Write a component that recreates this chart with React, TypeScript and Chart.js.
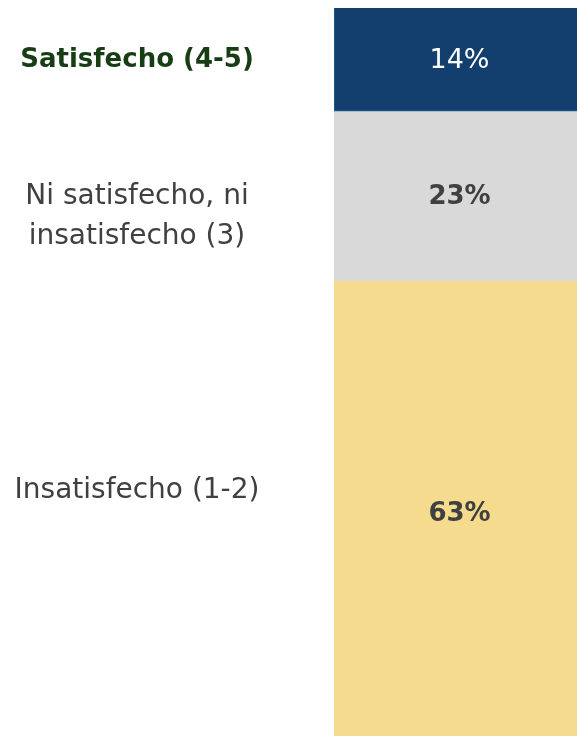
import React, { useEffect, useRef } from "react";
import { Chart, registerables } from "chart.js";

Chart.register(...registerables);

const categories = ["Total"];
const segmentLabels = ["Satisfecho (4-5)", "Ni satisfecho, ni insatisfecho (3)", "Insatisfecho (1-2)"];
const segmentLines = [["Satisfecho (4-5)"], ["Ni satisfecho, ni", "insatisfecho (3)"], ["Insatisfecho (1-2)"]];
const segmentValues = [14, 23, 63];
const segmentColors = ["#123f6e", "#d9d9d9", "#f4db8e"];
const segmentBorders = ["#1f6a8c", "#d9d9d9", "#f4db8e"];
const valueColors = ["#ffffff", "#404040", "#404040"];
const valueFonts = ["normal 27px", "bold 26px", "bold 26px"];
const labelColors = ["#173d14", "#404040", "#404040"];
const labelFonts = ["bold 26px", "normal 28px", "normal 28px"];
const labelOffsets = [1, 1, -22];

const FONT = "'DejaVu Sans', sans-serif";

const labelsPlugin = {
  id: "segLabels",
  afterDatasetsDraw(chart: any) {
    const ctx = chart.ctx;
    ctx.save();
    ctx.textAlign = "center";
    ctx.textBaseline = "middle";
    chart.data.datasets.forEach((ds: any, i: number) => {
      const meta = chart.getDatasetMeta(i);
      const el = meta.data[0];
      if (!el) return;
      const top = Math.min(el.y, el.base);
      const bottom = Math.max(el.y, el.base);
      const mid = (top + bottom) / 2;
      ctx.fillStyle = valueColors[i];
      ctx.font = `${valueFonts[i]} ${FONT}`;
      ctx.fillText(ds.data[0] + "%", el.x, mid + 1);
      ctx.fillStyle = labelColors[i];
      ctx.font = `${labelFonts[i]} ${FONT}`;
      const lines = segmentLines[i];
      lines.forEach((ln: string, j: number) => {
        ctx.fillText(ln, 137, mid + labelOffsets[i] + j * 40);
      });
    });
    ctx.restore();
  },
};

export default function App() {
  const ref = useRef<HTMLCanvasElement>(null);
  useEffect(() => {
    document.documentElement.style.overflow = "hidden";
    const chart = new Chart(ref.current!, {
      type: "bar",
      data: {
        labels: categories,
        datasets: segmentLabels.map((l, i) => ({
          label: l,
          data: [segmentValues[i]],
          backgroundColor: segmentColors[i],
          borderColor: segmentBorders[i],
          borderWidth: i === 0 ? 1 : 0,
          barPercentage: 1,
          categoryPercentage: 1,
        })),
      },
      options: {
        responsive: false,
        animation: false,
        layout: { padding: { left: 334, right: 0, top: 8, bottom: 0 } },
        plugins: { legend: { display: false }, tooltip: { enabled: false } },
        scales: {
          x: { stacked: true, display: false },
          y: { stacked: true, display: false, reverse: true, min: 0, max: 100 },
        },
      },
      plugins: [labelsPlugin],
    });
    return () => chart.destroy();
  }, []);
  return (
    <div style={{ position: "absolute", left: 0, top: 0, width: 585, height: 745 }}>
      <canvas ref={ref} width={585} height={745} />
    </div>
  );
}
